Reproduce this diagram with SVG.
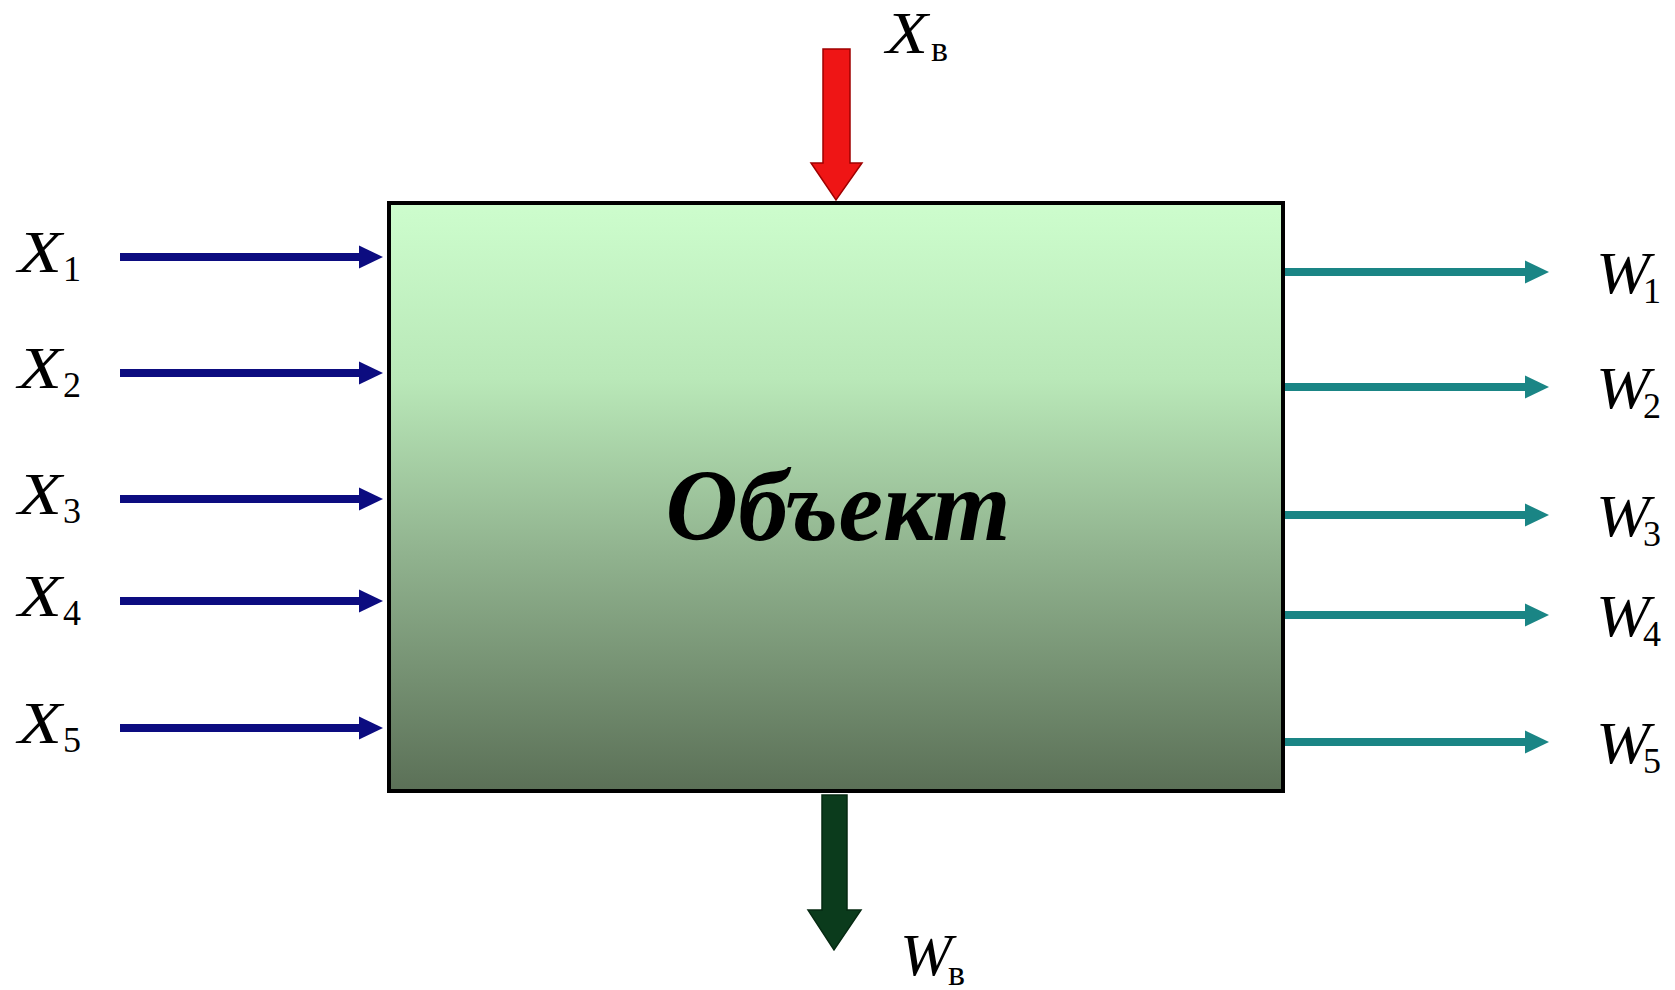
<svg xmlns="http://www.w3.org/2000/svg" width="1675" height="990" viewBox="0 0 1675 990">
<style>
.lbl{font-family:"Liberation Serif","Times New Roman",serif;font-style:italic;font-size:60px;fill:#000}
.sub{font-family:"Liberation Serif","Times New Roman",serif;font-style:normal;font-size:36px;fill:#000}
.xin{stroke:#0c0c80;stroke-width:8;fill:none}
.wout{stroke:#1a8585;stroke-width:8;fill:none}
.title{font-family:"Liberation Serif","Times New Roman",serif;font-style:italic;font-weight:bold;font-size:102px;fill:#000}
</style>
<defs>
<linearGradient id="g" x1="0" y1="0" x2="0" y2="1">
<stop offset="0" stop-color="#cdfdcd"/>
<stop offset="0.3" stop-color="#b9e8b8"/>
<stop offset="0.6" stop-color="#90b28e"/>
<stop offset="1" stop-color="#5b7057"/>
</linearGradient>
<marker id="mx" markerUnits="userSpaceOnUse" markerWidth="26" markerHeight="24" refX="14" refY="12" orient="auto">
<path d="M0,0.5 L24,12 L0,23.5 z" fill="#0c0c80"/>
</marker>
<marker id="mw" markerUnits="userSpaceOnUse" markerWidth="26" markerHeight="24" refX="14" refY="12" orient="auto">
<path d="M0,0.5 L24,12 L0,23.5 z" fill="#1a8585"/>
</marker>
</defs>
<rect width="1675" height="990" fill="#fff"/>

<g id="object">
<rect x="389" y="203" width="894" height="588" fill="url(#g)" stroke="#000" stroke-width="4"/>
<text class="title" x="838" y="540" text-anchor="middle" textLength="345" lengthAdjust="spacingAndGlyphs">Объект</text>
</g>

<g id="connectors">
<line class="xin" x1="120" y1="257" x2="373" y2="257" marker-end="url(#mx)"/>
<line class="xin" x1="120" y1="373" x2="373" y2="373" marker-end="url(#mx)"/>
<line class="xin" x1="120" y1="499" x2="373" y2="499" marker-end="url(#mx)"/>
<line class="xin" x1="120" y1="601" x2="373" y2="601" marker-end="url(#mx)"/>
<line class="xin" x1="120" y1="728" x2="373" y2="728" marker-end="url(#mx)"/>
<line class="wout" x1="1285" y1="272" x2="1539" y2="272" marker-end="url(#mw)"/>
<line class="wout" x1="1285" y1="387" x2="1539" y2="387" marker-end="url(#mw)"/>
<line class="wout" x1="1285" y1="515" x2="1539" y2="515" marker-end="url(#mw)"/>
<line class="wout" x1="1285" y1="615" x2="1539" y2="615" marker-end="url(#mw)"/>
<line class="wout" x1="1285" y1="742" x2="1539" y2="742" marker-end="url(#mw)"/>
<polygon id="arrow-xb" points="823,49 850,49 850,163 862,163 836,200 811,163 823,163" fill="#ef1515" stroke="#a00000" stroke-width="1.5"/>
<polygon id="arrow-wb" points="822,795 847,795 847,910 861,910 834,950 808,910 822,910" fill="#0b3b1c" stroke="#062a12" stroke-width="1.5"/>
</g>

<g id="label-x1"><text class="lbl" x="18" y="272" textLength="44" lengthAdjust="spacingAndGlyphs">X</text><text class="sub" x="63" y="281">1</text></g>
<g id="label-x2"><text class="lbl" x="18" y="388" textLength="44" lengthAdjust="spacingAndGlyphs">X</text><text class="sub" x="63" y="397">2</text></g>
<g id="label-x3"><text class="lbl" x="18" y="514" textLength="44" lengthAdjust="spacingAndGlyphs">X</text><text class="sub" x="63" y="523">3</text></g>
<g id="label-x4"><text class="lbl" x="18" y="616" textLength="44" lengthAdjust="spacingAndGlyphs">X</text><text class="sub" x="63" y="625">4</text></g>
<g id="label-x5"><text class="lbl" x="18" y="743" textLength="44" lengthAdjust="spacingAndGlyphs">X</text><text class="sub" x="63" y="752">5</text></g>

<g id="label-w1"><text class="lbl" x="1596" y="293" textLength="54" lengthAdjust="spacingAndGlyphs">W</text><text class="sub" x="1643" y="303">1</text></g>
<g id="label-w2"><text class="lbl" x="1596" y="408" textLength="54" lengthAdjust="spacingAndGlyphs">W</text><text class="sub" x="1643" y="418">2</text></g>
<g id="label-w3"><text class="lbl" x="1596" y="536" textLength="54" lengthAdjust="spacingAndGlyphs">W</text><text class="sub" x="1643" y="546">3</text></g>
<g id="label-w4"><text class="lbl" x="1596" y="636" textLength="54" lengthAdjust="spacingAndGlyphs">W</text><text class="sub" x="1643" y="646">4</text></g>
<g id="label-w5"><text class="lbl" x="1596" y="763" textLength="54" lengthAdjust="spacingAndGlyphs">W</text><text class="sub" x="1643" y="773">5</text></g>

<g id="label-xb"><text class="lbl" x="886" y="53" textLength="42" lengthAdjust="spacingAndGlyphs">X</text><text class="sub" x="931" y="61">в</text></g>
<g id="label-wb"><text class="lbl" x="900" y="975" textLength="52" lengthAdjust="spacingAndGlyphs">W</text><text class="sub" x="948" y="985">в</text></g>
</svg>
